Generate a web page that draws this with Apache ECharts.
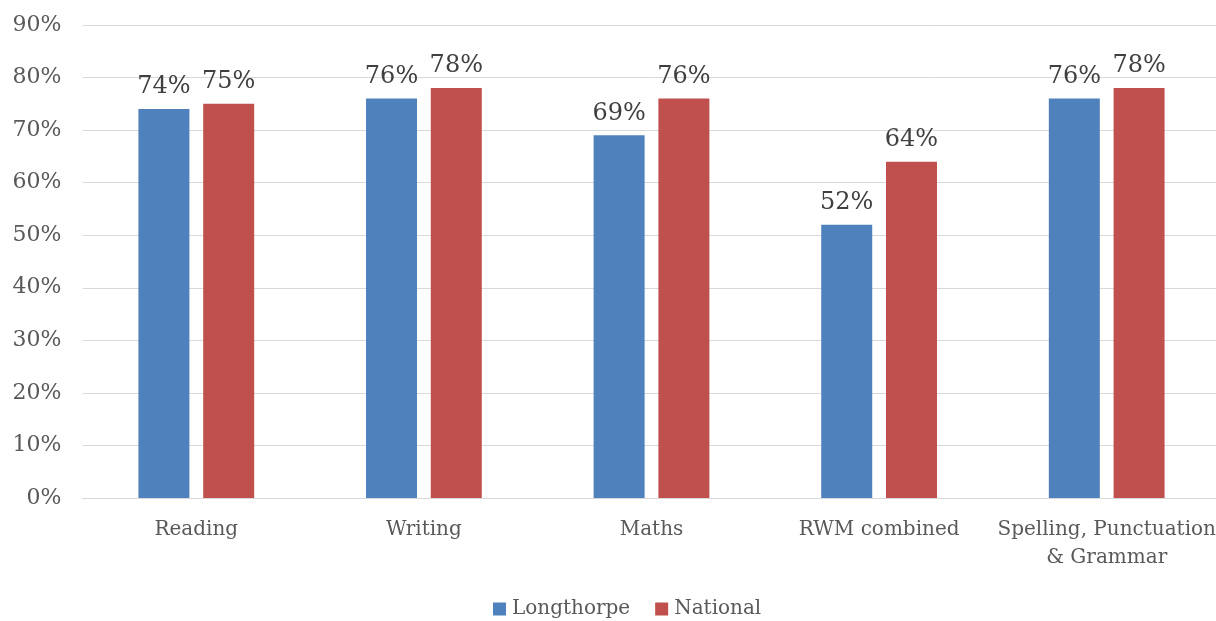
<!DOCTYPE html>
<html>
<head>
<meta charset="utf-8">
<script src="https://cdn.jsdelivr.net/npm/echarts@6/dist/echarts.min.js"></script>
<style>html,body{margin:0;padding:0;background:#fff;}#c{width:1216px;height:621px;}</style>
</head>
<body>
<div id="c"></div>
<script>
const categories = ['Reading', 'Writing', 'Maths', 'RWM combined', 'Spelling, Punctuation\n& Grammar'];
const longthorpe = [74, 76, 69, 52, 76];
const national = [75, 78, 76, 64, 78];
const yTicks = [0, 10, 20, 30, 40, 50, 60, 70, 80, 90];

const FONT = 'DejaVu Serif';
const chart = echarts.init(document.getElementById('c'));
const labelStyle = {
  show: true, position: 'top', distance: 10,
  formatter: p => p.value + '%',
  color: '#404040', fontFamily: FONT, fontSize: 24
};
chart.setOption({
  animation: false,
  textStyle: { fontFamily: FONT },
  grid: { left: 82.5, width: 1138, top: 25, height: 473, outerBoundsMode: 'none', containLabel: false },
  legend: {
    top: 594, left: 488,
    itemWidth: 13, itemHeight: 13, itemGap: 25,
    icon: 'rect',
    textStyle: { color: '#595959', fontFamily: FONT, fontSize: 20, padding: [0, 0, 0, 1] },
    data: ['Longthorpe', 'National']
  },
  xAxis: {
    type: 'category', data: categories,
    axisLine: { lineStyle: { color: '#D9D9D9', width: 1 } },
    axisTick: { show: false },
    axisLabel: { color: '#595959', fontFamily: FONT, fontSize: 20, margin: 18, lineHeight: 28, interval: 0 }
  },
  yAxis: {
    type: 'value', min: 0, max: 90, interval: 10,
    axisLabel: { formatter: v => yTicks.includes(v) ? v + '%' : '', color: '#595959', fontFamily: FONT, fontSize: 22, margin: 21 },
    axisLine: { show: false }, axisTick: { show: false },
    splitLine: { lineStyle: { color: '#D9D9D9', width: 1 } }
  },
  series: [
    { name: 'Longthorpe', type: 'bar', data: longthorpe, barWidth: 51, barGap: '27%',
      itemStyle: { color: '#4F81BD' }, label: labelStyle },
    { name: 'National', type: 'bar', data: national, barWidth: 51, barGap: '27%',
      itemStyle: { color: '#C0504D' }, label: labelStyle }
  ]
});
</script>
</body>
</html>
